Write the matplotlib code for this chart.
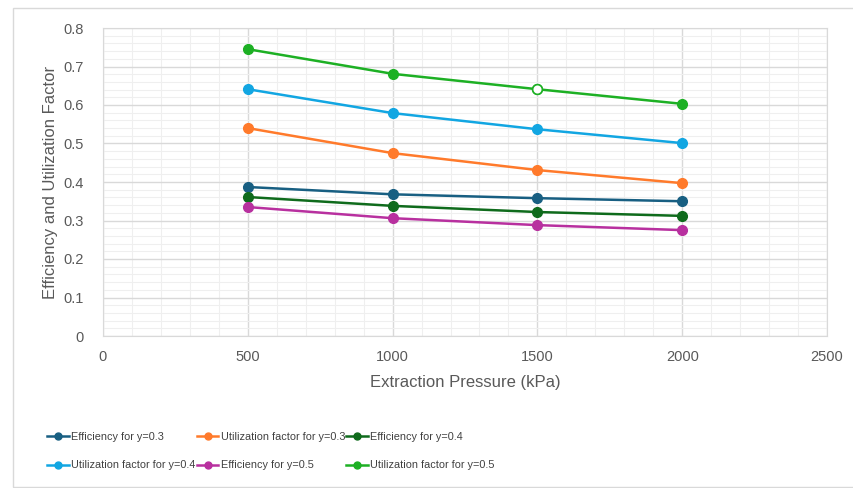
import numpy as np
import matplotlib.pyplot as plt
from matplotlib.ticker import MultipleLocator, FuncFormatter
from matplotlib.patches import Rectangle

plt.rcParams['font.family'] = ['Liberation Sans', 'DejaVu Sans']

# Data
pressure = [500, 1000, 1500, 2000]  # kPa
eff_03 = [0.387, 0.368, 0.358, 0.350]
util_03 = [0.540, 0.475, 0.431, 0.397]
eff_04 = [0.361, 0.338, 0.322, 0.312]
util_04 = [0.641, 0.579, 0.537, 0.501]
eff_05 = [0.335, 0.306, 0.288, 0.275]
util_05 = [0.745, 0.681, 0.641, 0.603]

labels = ["Efficiency for y=0.3", "Utilization factor for y=0.3", "Efficiency for y=0.4",
          "Utilization factor for y=0.4", "Efficiency for y=0.5", "Utilization factor for y=0.5"]
series = [eff_03, util_03, eff_04, util_04, eff_05, util_05]
colors = ["#185f82", "#ff7a2b", "#0f6b1c", "#12a6e2", "#b8309f", "#1db024"]

fig = plt.figure(figsize=(8.54, 4.88), dpi=100)
fig.patches.append(Rectangle((13 / 854, 1 / 488), 1.0, 479 / 488, transform=fig.transFigure,
                             facecolor="none", edgecolor="#d9d9d9", linewidth=1.0))
ax = fig.add_axes([103 / 854, 1 - 336 / 488, (827 - 103) / 854, (336 - 28) / 488])

handles = []
for vals, lab, col in zip(series, labels, colors):
    h, = ax.plot(pressure, vals, color=col, linewidth=1.8, marker="o", markersize=7,
                 label=lab, zorder=3)
    handles.append(h)

# hollow marker at 1500 kPa on the y=0.5 utilization line
ax.plot([pressure[2]], [util_05[2]], linestyle="none", marker="o", markersize=7,
        markerfacecolor="white", markeredgecolor=colors[5], markeredgewidth=1.2, zorder=4)

ax.set_xlim(0, 2500)
ax.set_ylim(0, 0.8)
ax.xaxis.set_major_locator(MultipleLocator(500))
ax.xaxis.set_minor_locator(MultipleLocator(100))
ax.yaxis.set_major_locator(MultipleLocator(0.1))
ax.yaxis.set_minor_locator(MultipleLocator(0.02))
ax.yaxis.set_major_formatter(FuncFormatter(lambda v, p: "%g" % round(v, 2)))
ax.grid(which="major", color="#d9d9d9", linewidth=1.0, zorder=0)
ax.grid(which="minor", color="#efefef", linewidth=0.8, zorder=0)
ax.set_axisbelow(True)
ax.tick_params(which="both", length=0, labelsize=10.5, labelcolor="#595959")
ax.tick_params(axis="x", pad=10)
ax.tick_params(axis="y", pad=14)
for s in ax.spines.values():
    s.set_color("#d9d9d9")

ax.set_xlabel("Extraction Pressure (kPa)", fontsize=12, color="#595959", labelpad=8)
ax.set_ylabel("Efficiency and Utilization Factor", fontsize=12, color="#595959", labelpad=4)

# legend fills row by row in the reference; matplotlib fills columns first
order = [0, 3, 1, 4, 2, 5]
leg = fig.legend([handles[i] for i in order], [labels[i] for i in order],
                 loc="center", ncol=3, bbox_to_anchor=(271 / 854, 1 - 451 / 488),
                 frameon=False, fontsize=7.8, handlelength=2.0, handletextpad=0.2,
                 columnspacing=0.1, labelspacing=1.75)
for t in leg.get_texts():
    t.set_color("#404040")
for lh in leg.legend_handles:
    lh.set_markersize(5)

fig.savefig("out.png", dpi=100)
